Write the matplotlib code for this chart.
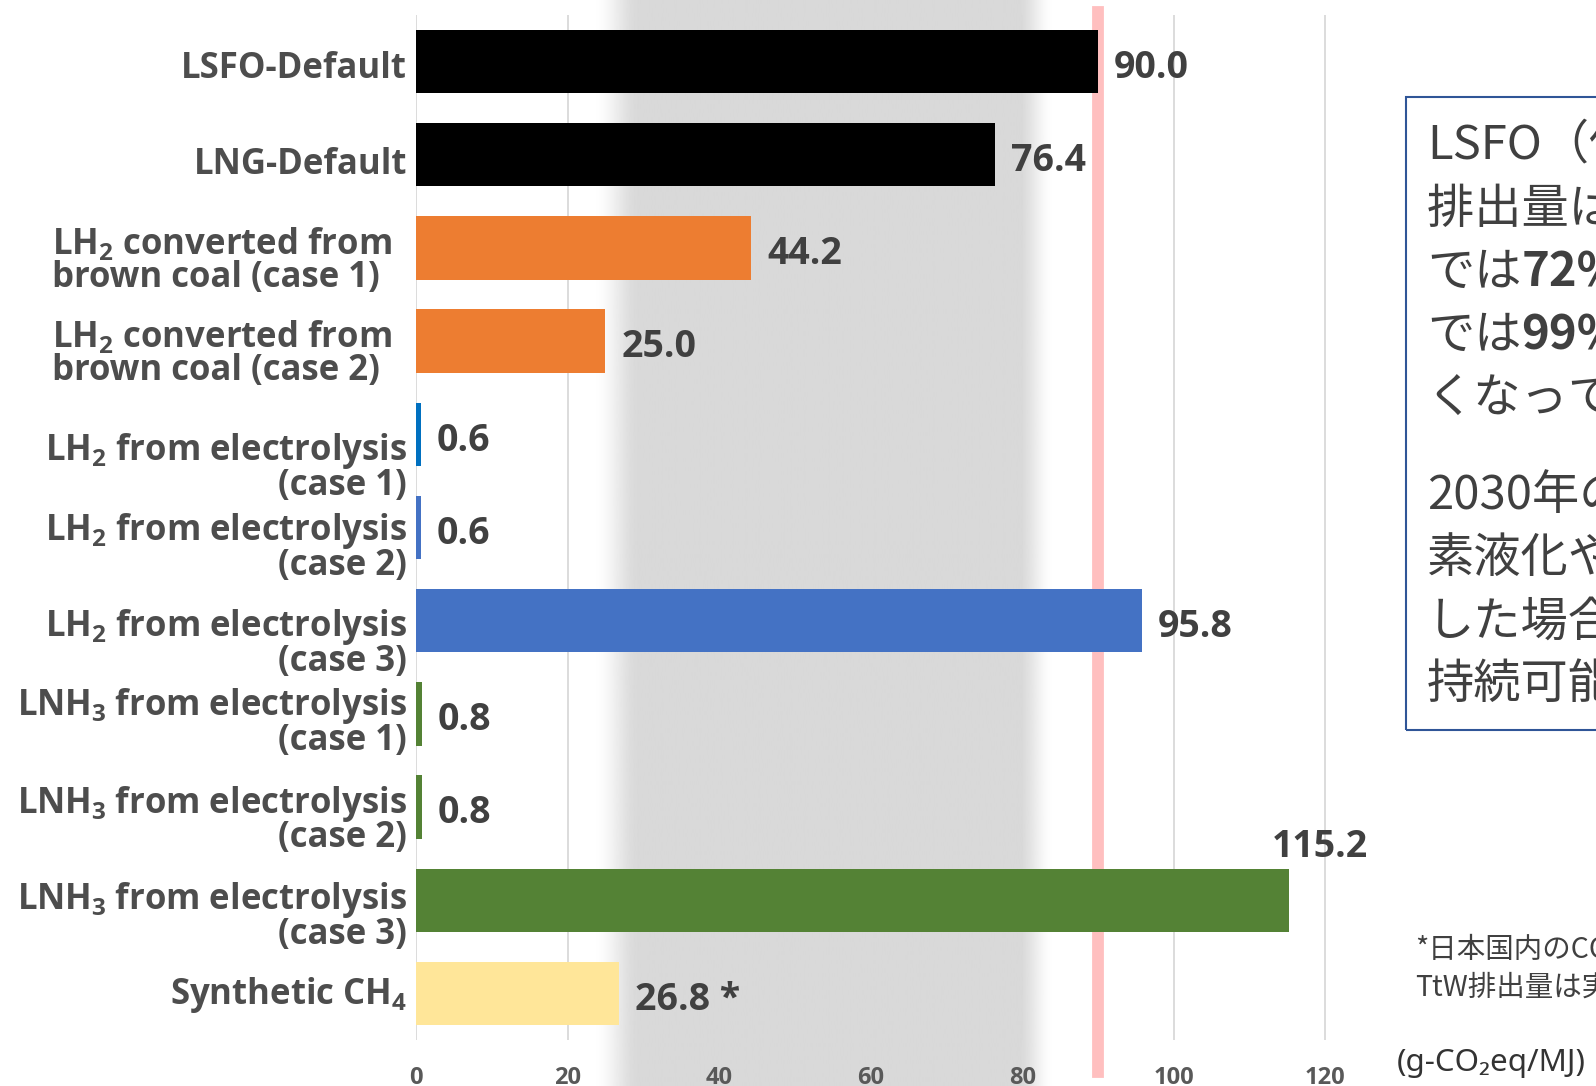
import numpy as np
import matplotlib
matplotlib.use("Agg")
import matplotlib.pyplot as plt
from matplotlib.patches import Rectangle

# fuentes: latino + japones
plt.rcParams['font.family'] = ['Open Sans', 'DejaVu Sans']
# subscritos (LH2, LNH3, CH4) com mathtext em negrito
plt.rcParams['mathtext.fontset'] = 'custom'
plt.rcParams['mathtext.rm'] = 'Open Sans:bold'
plt.rcParams['mathtext.it'] = 'Open Sans:bold'
plt.rcParams['mathtext.bf'] = 'Open Sans:bold'

# dados do grafico (g-CO2eq/MJ)
categories = [
    "LSFO-Default",
    "LNG-Default",
    "LH$_2$ converted from\nbrown coal (case 1)",
    "LH$_2$ converted from\nbrown coal (case 2)",
    "LH$_2$ from electrolysis\n(case 1)",
    "LH$_2$ from electrolysis\n(case 2)",
    "LH$_2$ from electrolysis\n(case 3)",
    "LNH$_3$ from electrolysis\n(case 1)",
    "LNH$_3$ from electrolysis\n(case 2)",
    "LNH$_3$ from electrolysis\n(case 3)",
    "Synthetic CH$_4$",
]
values = [90.0, 76.4, 44.2, 25.0, 0.6, 0.6, 95.8, 0.8, 0.8, 115.2, 26.8]
bar_colors = ["#000000", "#000000", "#ED7D31", "#ED7D31", "#0070C0", "#4472C4",
              "#4472C4", "#548235", "#548235", "#548235", "#FFE699"]
notes = ["", "", "", "", "", "", "", "", "", "", " *"]
xticks = [0, 20, 40, 60, 80, 100, 120]
lsfo_line = 90.0

box_par1 = [
    [("LSFO（低硫黄燃料油）と比較して、GHG", False)],
    [("排出量は褐炭由来の液化水素（case 2）", False)],
    [("では", False), ("72%", True), ("、電解由来の液化水素", False)],
    [("では", False), ("99%", True), ("以上も排出量が低", False)],
    [("くなっている。", False)],
]
box_par2 = [
    [("2030年の日本国内の電源構成で水", False)],
    [("素液化やアンモニア合成を実施", False)],
    [("した場合、LSFOよりも多くなり、", False)],
    [("持続可能な燃料とはならない。", False)],
]
footnote = ["*日本国内のCO₂を回収して合成した場合、", "TtW排出量は実質ゼロとみなす"]
unit_label = "(g-CO₂eq/MJ)"

W, H = 1596, 1086
fig = plt.figure(figsize=(W / 100, H / 100), dpi=100)
ax = fig.add_axes([416 / W, 46 / H, 970 / W, 1025 / H])

n = len(values)
y = np.arange(n)

# faixa cinza com bordas suaves
def ramp(x, a, b):
    t = np.clip((x - a) / (b - a), 0, 1)
    return t * t * (3 - 2 * t)

xs = np.linspace(20, 88, 700)
alpha = ramp(xs, 23.5, 29.5) * (1 - ramp(xs, 79.3, 84))
rgba = np.zeros((1, len(xs), 4))
rgba[..., :3] = 217 / 255
rgba[0, :, 3] = alpha
ax.imshow(rgba, extent=(20, 88, -0.06, 1.03), aspect='auto', interpolation='bilinear',
          zorder=0.6, clip_on=False, transform=ax.get_xaxis_transform())

for t in xticks:
    ax.axvline(t, color='#D9D9D9', lw=1.3, zorder=0.3)

ax.axvline(lsfo_line, ymin=-0.031, ymax=1.003, color='#FFBFBF', lw=8.5,
           zorder=1, clip_on=False)

ax.barh(y, values, height=0.68, color=bar_colors, zorder=2)

ax.set_xlim(0, 128)
ax.set_ylim(n - 0.5, -0.5)
ax.set_autoscale_on(False)

for s in ax.spines.values():
    s.set_visible(False)
ax.set_yticks([])
ax.set_xticks(xticks)
ax.tick_params(axis='x', length=0, pad=19, labelsize=17, labelcolor='#595959')
for lbl in ax.get_xticklabels():
    lbl.set_fontweight('bold')

# rotulos dos valores
for i, (v, note) in enumerate(zip(values, notes)):
    txt = f"{v:.1f}{note}"
    if v > 110:
        ax.annotate(txt, xy=(v, i), xytext=(22, 38), textcoords='offset points',
                    ha='center', va='center', fontsize=27, fontweight='bold',
                    color='#404040', zorder=3)
    else:
        ax.annotate(txt, xy=(v, i), xytext=(11.5, -4.5), textcoords='offset points',
                    ha='left', va='center', fontsize=27, fontweight='bold',
                    color='#404040', zorder=3)

# rotulos das categorias (ajuste vertical fino, em pixels)
nudge_px = [0, 3, 6, 6, 26, 13, 16, 2, 6, 9, -5]
for i, cat in enumerate(categories):
    if 'brown' in cat:
        malign, dx = 'left', -17.5
    else:
        malign, dx = 'right', -6.5
    ax.annotate(cat, xy=(0, i), xycoords=('axes fraction', 'data'),
                xytext=(dx, -5 - 0.72 * nudge_px[i]), textcoords='offset points',
                ha='right', va='center', multialignment=malign, linespacing=0.885,
                fontsize=25, fontweight='bold', color='#4D4D4D')

# caixa de texto a direita
fig.add_artist(Rectangle((1406 / W, 1 - 730 / H), 0.2, (730 - 97) / H,
                         transform=fig.transFigure, fill=False,
                         edgecolor='#2F5597', lw=1.5))

jp = ['Noto Sans CJK JP', 'DejaVu Sans']

def draw_line(segments, ypx):
    prev = None
    for seg, bold in segments:
        kw = dict(fontsize=34, color='#404040', family=jp,
                  fontweight='bold' if bold else 'normal', va='center', ha='left')
        if prev is None:
            prev = fig.text(1427 / W, 1 - ypx / H, seg, **kw)
        else:
            prev = ax.annotate(seg, xy=(1, 0.5), xycoords=prev,
                               annotation_clip=False, **kw)

for k, segs in enumerate(box_par1):
    draw_line(segs, 145.5 + 63.5 * k)
for k, segs in enumerate(box_par2):
    draw_line(segs, 495.7 + 63.5 * k)

for k, line in enumerate(footnote):
    fig.text(1415 / W, 1 - (950 + 38 * k) / H, line, fontsize=20.5,
             color='#404040', family=jp, va='center', ha='left')

fig.text(1491 / W, 1 - 1063 / H, unit_label, fontsize=22.5, color='#333333',
         family=['Noto Sans', 'DejaVu Sans'], ha='center', va='center')

fig.savefig("out.png", dpi=100)
